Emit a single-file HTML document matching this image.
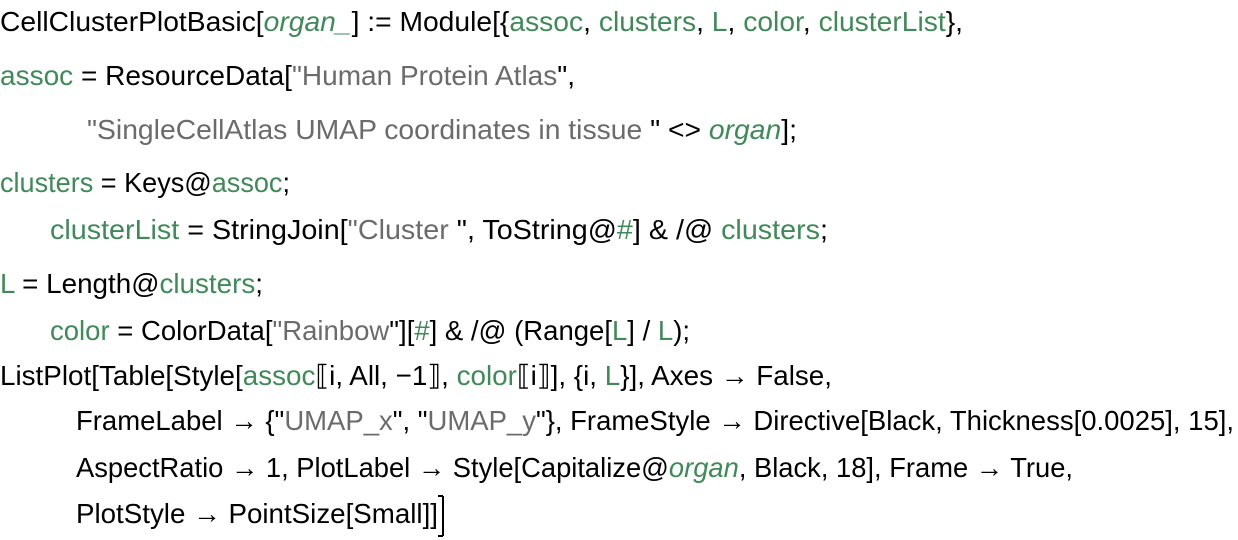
<!DOCTYPE html>
<html><head><meta charset="utf-8"><style>
html,body{margin:0;padding:0;background:#fff;width:1238px;height:540px;overflow:hidden}
svg{display:block}
text{font-family:"Liberation Sans",sans-serif;font-size:28px;fill:#000}
.g{fill:#3f8a58}.s{fill:#6b6b6b}.i{font-style:italic}
</style></head><body>
<svg width="1238" height="540" xmlns="http://www.w3.org/2000/svg">
<text x="0" y="31" textLength="963" lengthAdjust="spacingAndGlyphs">CellClusterPlotBasic[<tspan class="g i">organ_</tspan>] := Module[{<tspan class="g">assoc</tspan>, <tspan class="g">clusters</tspan>, <tspan class="g">L</tspan>, <tspan class="g">color</tspan>, <tspan class="g">clusterList</tspan>},</text>
<text x="0" y="85" textLength="575" lengthAdjust="spacingAndGlyphs"><tspan class="g">assoc</tspan> = ResourceData[<tspan class="s">"Human Protein Atlas</tspan>",</text>
<text x="87" y="139" textLength="710" lengthAdjust="spacingAndGlyphs"><tspan class="s">"SingleCellAtlas UMAP coordinates in tissue </tspan>" &lt;&gt; <tspan class="g i">organ</tspan>];</text>
<text x="0" y="192" textLength="290" lengthAdjust="spacingAndGlyphs"><tspan class="g">clusters</tspan> = Keys@<tspan class="g">assoc</tspan>;</text>
<text x="50" y="239" textLength="778" lengthAdjust="spacingAndGlyphs"><tspan class="g">clusterList</tspan> = StringJoin[<tspan class="s">"Cluster </tspan>", ToString@<tspan class="g">#</tspan>] &amp; /@ <tspan class="g">clusters</tspan>;</text>
<text x="0" y="293" textLength="263" lengthAdjust="spacingAndGlyphs"><tspan class="g">L</tspan> = Length@<tspan class="g">clusters</tspan>;</text>
<text x="50" y="340" textLength="640" lengthAdjust="spacingAndGlyphs"><tspan class="g">color</tspan> = ColorData[<tspan class="s">"Rainbow</tspan>"][<tspan class="g">#</tspan>] &amp; /@ (Range[<tspan class="g">L</tspan>] / <tspan class="g">L</tspan>);</text>
<text x="0" y="385" textLength="832" lengthAdjust="spacingAndGlyphs">ListPlot[Table[Style[<tspan class="g">assoc</tspan>⟦i, All, −1⟧, <tspan class="g">color</tspan>⟦i⟧], {i, <tspan class="g">L</tspan>}], Axes → False,</text>
<text x="76" y="430" textLength="1158" lengthAdjust="spacingAndGlyphs">FrameLabel → {"<tspan class="s">UMAP_x</tspan>", "<tspan class="s">UMAP_y</tspan>"}, FrameStyle → Directive[Black, Thickness[0.0025], 15],</text>
<text x="76" y="477" textLength="997" lengthAdjust="spacingAndGlyphs">AspectRatio → 1, PlotLabel → Style[Capitalize@<tspan class="g i">organ</tspan>, Black, 18], Frame → True,</text>
<text x="76" y="523" textLength="362" lengthAdjust="spacingAndGlyphs">PlotStyle → PointSize[Small]]</text>
<path d="M443 496 V536 M443 496 H438 M443 536 H438" stroke="#000" stroke-width="2" fill="none"/>
</svg>
</body></html>
